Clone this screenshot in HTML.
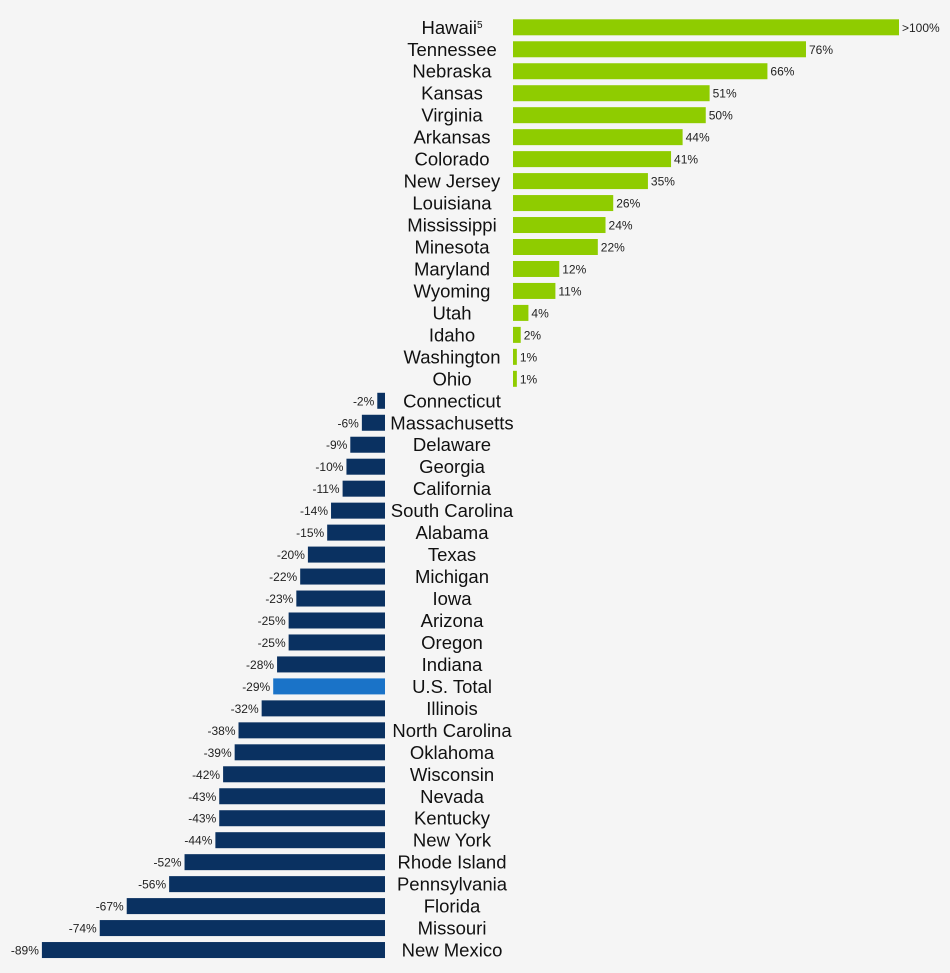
<!DOCTYPE html>
<html><head><meta charset="utf-8"><style>
html,body{margin:0;padding:0;background:#f5f5f5;}
svg{display:block;}
.n{font-family:"Liberation Sans",sans-serif;font-size:18.5px;fill:#111;text-anchor:middle;}
.v{font-family:"Liberation Sans",sans-serif;font-size:12px;fill:#222;}
</style></head><body>
<svg id="c" width="950" height="973" xmlns="http://www.w3.org/2000/svg"></svg>
<script>
var d=[["Hawaii",100,">100%"],["Tennessee",76],["Nebraska",66],["Kansas",51],["Virginia",50],["Arkansas",44],["Colorado",41],["New Jersey",35],["Louisiana",26],["Mississippi",24],["Minesota",22],["Maryland",12],["Wyoming",11],["Utah",4],["Idaho",2],["Washington",1],["Ohio",1],
["Connecticut",-2],["Massachusetts",-6],["Delaware",-9],["Georgia",-10],["California",-11],["South Carolina",-14],["Alabama",-15],["Texas",-20],["Michigan",-22],["Iowa",-23],["Arizona",-25],["Oregon",-25],["Indiana",-28],["U.S. Total",-29],["Illinois",-32],["North Carolina",-38],["Oklahoma",-39],["Wisconsin",-42],["Nevada",-43],["Kentucky",-43],["New York",-44],["Rhode Island",-52],["Pennsylvania",-56],["Florida",-67],["Missouri",-74],["New Mexico",-89]];
var s="",k=3.855;
d.forEach(function(r,i){
 var c=27.3+i*21.97,t=c-8,v=r[1];
 var nm=r[0]=="Hawaii"?'Hawaii<tspan font-size="10" dy="-6">5</tspan>':r[0];
 s+='<text class="n" x="452" y="'+(c+6.5)+'">'+nm+'</text>';
 if(v>0){var w=v==100?386:v*k;
  s+='<rect x="513" y="'+t+'" width="'+w+'" height="16" fill="#8fcc00"/>';
  s+='<text class="v" x="'+(513+w+3)+'" y="'+(c+4.5)+'">'+(r[2]||v+"%")+'</text>';}
 else{var w=-v*k,x=385-w;
  s+='<rect x="'+x+'" y="'+t+'" width="'+w+'" height="16" fill="'+(r[0]=="U.S. Total"?"#1a73c8":"#0a3161")+'"/>';
  s+='<text class="v" x="'+(x-3)+'" y="'+(c+4.5)+'" text-anchor="end">'+v+'%</text>';}
});
document.getElementById("c").innerHTML=s;
</script>
</body></html>
